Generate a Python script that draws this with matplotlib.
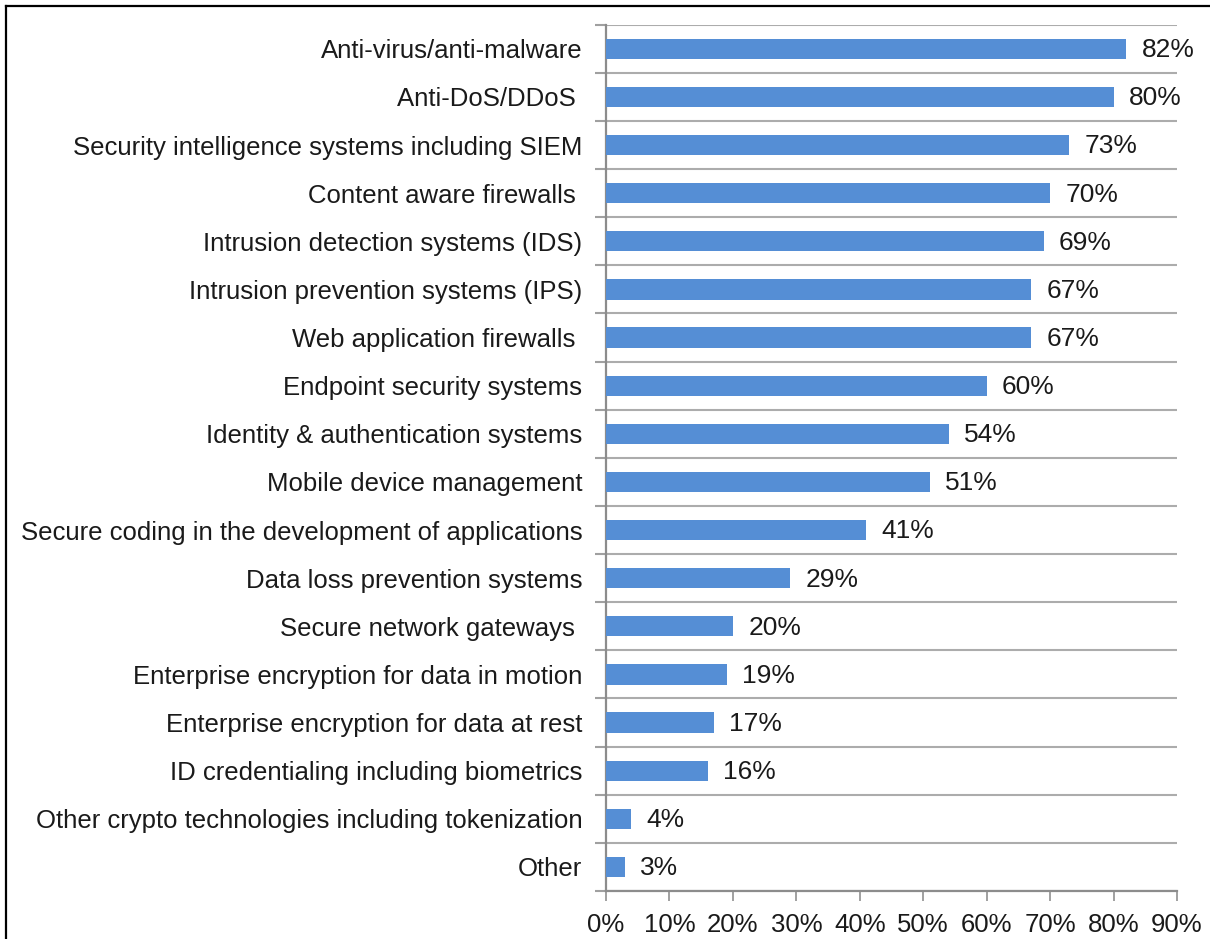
import matplotlib
matplotlib.use("Agg")
import matplotlib.pyplot as plt
from matplotlib.lines import Line2D
from matplotlib.ticker import FixedLocator, PercentFormatter
import numpy as np

categories = [
    "Anti-virus/anti-malware",
    "Anti-DoS/DDoS ",
    "Security intelligence systems including SIEM",
    "Content aware firewalls ",
    "Intrusion detection systems (IDS)",
    "Intrusion prevention systems (IPS)",
    "Web application firewalls ",
    "Endpoint security systems",
    "Identity & authentication systems",
    "Mobile device management",
    "Secure coding in the development of applications",
    "Data loss prevention systems",
    "Secure network gateways ",
    "Enterprise encryption for data in motion",
    "Enterprise encryption for data at rest",
    "ID credentialing including biometrics",
    "Other crypto technologies including tokenization",
    "Other",
]
values = [82, 80, 73, 70, 69, 67, 67, 60, 54, 51, 41, 29, 20, 19, 17, 16, 4, 3]
xticks = [0, 10, 20, 30, 40, 50, 60, 70, 80, 90]

plt.rcParams['font.family'] = ['Liberation Sans', 'DejaVu Sans']

W, H = 1210, 939
FS = 18.5
TXT = '#1a1a1a'
fig = plt.figure(figsize=(W / 100, H / 100), dpi=100)
ax = fig.add_axes([606 / W, 1 - 891 / H, (1177 - 606) / W, (891 - 24.7) / H])

n = len(categories)
y = np.arange(n)
bar_color = '#558ED5'
ax.barh(y, values, height=0.42, color=bar_color, zorder=3)

for yi, v in zip(y, values):
    ax.annotate(f"{v}%", (v, yi), xytext=(11, -1), textcoords='offset points',
                ha='left', va='center', fontsize=19, color=TXT)

ax.set_ylim(n - 0.5, -0.5)
ax.set_xlim(0, 90)

ax.yaxis.set_major_locator(FixedLocator(y))
ax.set_yticklabels(categories, fontsize=FS, color=TXT)
ax.tick_params(axis='y', which='major', length=0, pad=17)
ax.yaxis.set_minor_locator(FixedLocator(np.arange(-0.5, n, 1.0)))
ax.tick_params(axis='y', which='minor', length=8, width=1.5, color='#a0a0a0', direction='out')
ax.grid(axis='y', which='minor', color='#acacac', linewidth=1.5, zorder=1)

ax.xaxis.set_major_locator(FixedLocator(xticks))
ax.xaxis.set_major_formatter(PercentFormatter(decimals=0))
ax.tick_params(axis='x', which='major', length=7, width=1.4, color='#a0a0a0',
               labelsize=FS, labelcolor=TXT, pad=9)

for s in ['top', 'right']:
    ax.spines[s].set_visible(False)
for s in ['left', 'bottom']:
    ax.spines[s].set_color('#8c8c8c')
    ax.spines[s].set_linewidth(1.6)

fig.add_artist(Line2D([6 / W, 1], [1 - 6 / H, 1 - 6 / H], color='black', linewidth=1.6,
                      transform=fig.transFigure))
fig.add_artist(Line2D([6 / W, 6 / W], [0, 1 - 6 / H], color='black', linewidth=1.6,
                      transform=fig.transFigure))

fig.savefig("out.png", dpi=100)
